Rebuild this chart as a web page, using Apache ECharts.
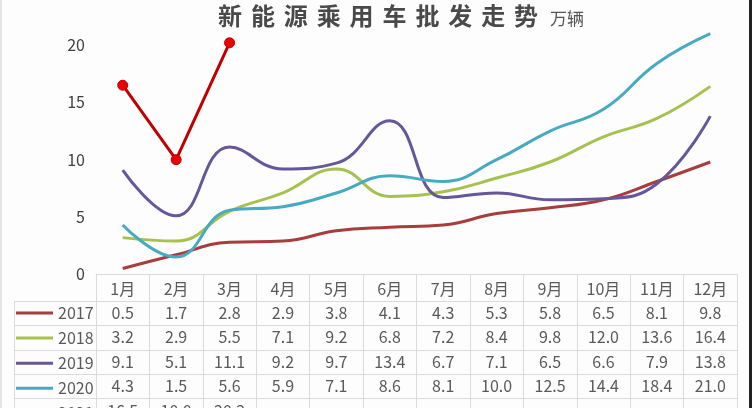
<!DOCTYPE html>
<html><head><meta charset="utf-8">
<script src="https://cdn.jsdelivr.net/npm/echarts@6/dist/echarts.min.js"></script>
<style>
html,body{margin:0;padding:0;background:#fdfdfe;}
#wrap{position:relative;width:752px;height:408px;overflow:hidden;background:#fdfdfe;}
#chart{position:absolute;left:0;top:0;width:752px;height:408px;}
#title{position:absolute;left:218px;top:0px;font-family:"Noto Sans CJK SC";font-size:24px;letter-spacing:8.9px;color:#4a4a4a;font-weight:bold;white-space:nowrap;line-height:30px;}
#title span{font-size:17px;letter-spacing:0;font-weight:normal;color:#555;margin-left:3px;}
#lb{position:absolute;left:0;top:0;width:2px;height:408px;background:#e4e4e6;}
#rb{position:absolute;left:749px;top:0;width:3px;height:408px;background:#222;}
</style></head>
<body><div id="wrap"><div id="chart"></div>
<div id="title">新能源乘用车批发走势<span>万辆</span></div>
<div id="lb"></div><div id="rb"></div></div>
<script>
const months = ['1月','2月','3月','4月','5月','6月','7月','8月','9月','10月','11月','12月'];
const years = ['2017','2018','2019','2020','2021'];
const s2017 = [0.5,1.7,2.8,2.9,3.8,4.1,4.3,5.3,5.8,6.5,8.1,9.8];
const s2018 = [3.2,2.9,5.5,7.1,9.2,6.8,7.2,8.4,9.8,12.0,13.6,16.4];
const s2019 = [9.1,5.1,11.1,9.2,9.7,13.4,6.7,7.1,6.5,6.6,7.9,13.8];
const s2020 = [4.3,1.5,5.6,5.9,7.1,8.6,8.1,10.0,12.5,14.4,18.4,21.0];
const s2021 = [16.5,10.0,20.2,null,null,null,null,null,null,null,null,null];
const yTicks = [0,5,10,15,20];

const allSeries = [s2017,s2018,s2019,s2020,s2021];
const colors = ['#a83d3e','#a6c14e','#65579a','#46abc2','#c00000'];
const ROW_H = 24.4, LABEL_MARGIN = 2;
const fmt = v => (v == null ? '' : v.toFixed(1));

const chart = echarts.init(document.getElementById('chart'), null, {renderer:'canvas'});
const textColor = '#595959';
const font = '"Noto Sans CJK SC", "Noto Sans", sans-serif';

const series = allSeries.map((d,i) => {
  const is2021 = i === 4;
  return {
    name: years[i], type:'line', data: d,
    smooth: is2021 ? false : 0.45,
    symbol: is2021 ? 'circle' : 'none',
    symbolSize: 10,
    showSymbol: is2021,
    lineStyle: {color: colors[i], width: 3},
    itemStyle: is2021 ? {color:'#ee0000', borderColor:'#b00000', borderWidth:1} : {color: colors[i]},
    emphasis: {disabled:true},
    z: is2021 ? 5 : 2
  };
});

const lineIcon = 'path://M0,5.5 L37,5.5 L37,8.5 L0,8.5 Z';
const markIcon = 'path://M0,5.5 L37,5.5 L37,8.5 L0,8.5 Z M18.5,2 A5,5 0 1,1 18.49,2 Z';

const option = {
  animation:false,
  backgroundColor:'transparent',
  grid:{left:96, right:15, top:22.2, bottom:133.7, containLabel:false, outerBoundsMode:'none'},
  legend:{
    orient:'vertical', left:16, top:305, height:200, padding:0,
    itemWidth:37, itemHeight:14, itemGap:9.1, symbolKeepAspect:true,
    textStyle:{fontFamily:font, fontSize:16, color:textColor, lineHeight:14},
    data: years.map((y,i)=> ({name:y, icon: i===4 ? markIcon : lineIcon,
      itemStyle:{color: i===4 ? '#d40000' : colors[i], borderWidth:0}})),
    selectedMode:false
  },
  xAxis:{
    type:'category', data: months, boundaryGap:true,
    axisLine:{show:true, lineStyle:{color:'#dadada', width:1}},
    axisTick:{show:true, interval:0, length:150, lineStyle:{color:'#dadada', width:1}},
    axisLabel:{
      interval:0, margin:LABEL_MARGIN, verticalAlign:'top',
      formatter:(val, idx) => {
        let s = '{h|' + val + '}';
        allSeries.forEach(d => { s += '\n{v|' + fmt(d[idx]) + '}'; });
        return s;
      },
      rich:{
        h:{fontFamily:font, fontSize:16, color:textColor, lineHeight:ROW_H, height:ROW_H},
        v:{fontFamily:font, fontSize:16, color:textColor, lineHeight:ROW_H, height:ROW_H}
      }
    },
    splitLine:{show:false}
  },
  yAxis:{
    type:'value', min:0, max:22, interval:5,
    axisLine:{show:false}, axisTick:{show:false}, splitLine:{show:false},
    axisLabel:{margin:11, fontFamily:font, fontSize:16, color:'#404040',
      formatter: v => (yTicks.indexOf(v) >= 0 ? String(v) : '')}
  },
  series: series
};
chart.setOption(option);

// table horizontal lines & legend column border, positioned from the axis scale
const axisY = chart.convertToPixel({yAxisIndex:0}, 0);
const step = chart.convertToPixel({xAxisIndex:0}, 1) - chart.convertToPixel({xAxisIndex:0}, 0);
const xRight = chart.convertToPixel({xAxisIndex:0}, months.length-1) + step/2;
const tableLeft = 14;
const g = [];
for (let k = 1; k <= years.length; k++) {
  const y = Math.round(axisY + LABEL_MARGIN + ROW_H*k) + 0.5;
  g.push({type:'line', shape:{x1:tableLeft, y1:y, x2:xRight, y2:y}, style:{stroke:'#dadada', lineWidth:1}, silent:true});
}
const yTop = Math.round(axisY + LABEL_MARGIN + ROW_H) + 0.5;
g.push({type:'line', shape:{x1:tableLeft+0.5, y1:yTop, x2:tableLeft+0.5, y2:420}, style:{stroke:'#dadada', lineWidth:1}, silent:true});
chart.setOption({graphic:g});
</script></body></html>
